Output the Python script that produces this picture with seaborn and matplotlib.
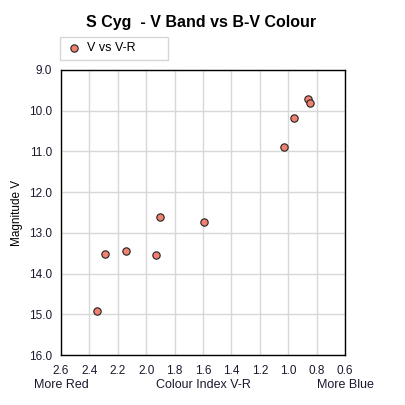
import seaborn as sns
import pandas as pd
from matplotlib import pyplot as plt

# colour index V-R and V magnitude
colour_vr = [2.35, 2.29, 2.14, 1.93, 1.90, 1.59, 1.03, 0.96, 0.86, 0.85]
mag_v = [14.93, 13.53, 13.45, 13.54, 12.61, 12.74, 10.90, 10.17, 9.71, 9.82]

x_ticks = [2.6, 2.4, 2.2, 2.0, 1.8, 1.6, 1.4, 1.2, 1.0, 0.8, 0.6]
y_ticks = [9.0, 10.0, 11.0, 12.0, 13.0, 14.0, 15.0, 16.0]

df = pd.DataFrame({"V-R": colour_vr, "V": mag_v})

sns.set_style("white")
plt.rcParams['font.family'] = ['Liberation Sans', 'DejaVu Sans']
plt.rcParams['text.color'] = 'black'

fig = plt.figure(figsize=(4.05, 4.05), dpi=100)
ax = fig.add_axes([61 / 405, 50 / 405, 284 / 405, 285 / 405])

sns.scatterplot(data=df, x="V-R", y="V", ax=ax, color="#f08070",
                edgecolor="#222222", linewidth=0.8, s=28, label="V vs V-R",
                zorder=3)

ax.set_xlim(2.6, 0.6)
ax.set_ylim(16.0, 9.0)
ax.set_xticks(x_ticks)
ax.set_xticklabels([f"{t:.1f}" for t in x_ticks])
ax.set_yticks(y_ticks)
ax.set_yticklabels([f"{t:.1f}" for t in y_ticks])
ax.grid(True, color="#d8d8d8", linewidth=1)
ax.tick_params(axis='both', labelsize=8.5, length=3, color="#666666",
               labelcolor="#1a1a30")
ax.tick_params(axis='x', length=0, pad=7)
for sp in ax.spines.values():
    sp.set_color("black")
    sp.set_linewidth(1)

ax.set_xlabel("")
ax.set_ylabel("Magnitude V", fontsize=8.5, labelpad=4, color="black")
ax.text(0.0, -0.107, "More Red", transform=ax.transAxes, fontsize=9,
        ha="center", va="center", color="#1a1a30")
ax.text(0.5, -0.107, "Colour Index V-R", transform=ax.transAxes, fontsize=9,
        ha="center", va="center", color="#1a1a30")
ax.text(1.0, -0.107, "More Blue", transform=ax.transAxes, fontsize=9,
        ha="center", va="center", color="#1a1a30")

fig.suptitle("S Cyg  - V Band vs B-V Colour", x=0.497, y=0.962,
             fontsize=11.5, fontweight="bold", color="black")

leg = ax.legend(loc="lower left", bbox_to_anchor=(-0.004, 1.035, 0.38, 0.07),
                mode="expand", borderaxespad=0, fontsize=9, frameon=True,
                fancybox=False, borderpad=0.45, handletextpad=0.4,
                handlelength=1.3, markerscale=1.0)
leg.get_frame().set_edgecolor("#cccccc")
leg.get_frame().set_linewidth(1)

fig.savefig("out.png", dpi=100)
